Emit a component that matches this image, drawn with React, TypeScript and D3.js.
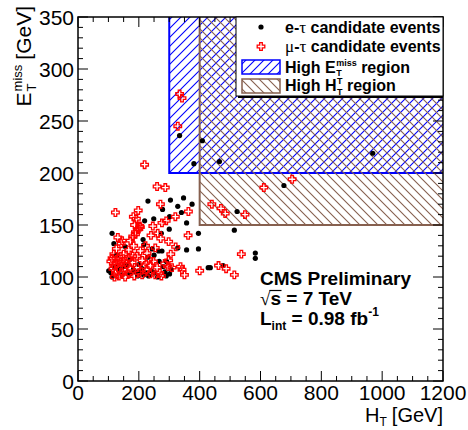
import { useEffect, useRef } from "react";
import * as d3 from "d3";

// e-tau candidate events: [HT, MET] in GeV
const eTauEvents: [number, number][] = [
  [334, 236], [409, 231], [381, 209], [465, 211], [969, 219],
  [677, 188], [523, 163], [514, 145], [583, 123], [583, 118],
  [435, 109], [428, 109], [477, 111], [396, 142], [396, 127],
  [357, 126], [357, 152], [375, 170], [347, 176], [340, 162],
  [328, 168], [304, 174], [301, 158], [300, 146], [278, 165],
  [274, 142], [276, 125], [267, 115], [230, 173], [219, 154],
  [249, 156], [214, 136], [216, 131], [244, 127], [328, 128],
  [307, 107], [301, 103], [265, 125], [112, 142], [118, 132],
  [156, 129], [101, 106], [145, 102], [189, 105], [216, 102],
  [205, 105], [108, 104], [122, 110], [136, 107], [170, 103],
  [182, 107], [196, 101], [226, 104], [232, 101], [241, 106],
  [252, 104], [262, 100], [286, 105], [290, 101], [160, 111],
  [200, 112], [127, 121], [230, 119], [250, 121], [291, 115],
  [171, 117], [112, 100], [150, 110], [210, 108], [280, 110],
];

// mu-tau candidate events: [HT, MET] in GeV
const muTauEvents: [number, number][] = [
  [334, 276], [342, 272], [328, 245], [219, 208], [260, 187],
  [287, 186], [271, 170], [198, 164], [123, 162], [182, 158],
  [290, 154], [320, 158], [276, 152], [246, 149], [205, 148],
  [363, 163], [362, 140], [440, 170], [470, 166], [484, 161],
  [549, 160], [611, 186], [704, 194], [537, 122], [462, 111],
  [487, 108], [514, 102], [400, 106], [272, 137], [298, 134],
  [321, 129], [305, 122], [298, 116], [285, 113], [296, 110],
  [309, 109], [337, 110], [342, 107], [350, 102], [269, 104],
  [274, 101], [131, 138], [145, 135], [142, 132], [126, 127],
  [172, 135], [180, 139], [189, 143], [196, 146], [203, 149],
  [183, 130], [167, 126], [150, 122], [118, 122], [112, 118],
  [134, 117], [167, 118], [194, 120], [227, 123], [254, 128],
  [140, 114], [156, 115], [178, 114], [211, 116], [233, 117],
  [118, 111], [134, 109], [150, 107], [172, 108], [194, 109],
  [216, 110], [238, 111], [260, 109], [123, 104], [167, 103],
  [211, 102], [238, 103], [254, 102], [134, 101], [189, 141],
  [200, 146], [115, 108], [128, 113], [145, 104], [155, 100],
  [185, 101], [200, 104], [225, 107], [248, 115], [160, 112],
  [180, 120], [205, 125], [222, 130], [140, 120], [120, 100],
  [108, 115], [240, 140], [186, 150], [192, 156], [262, 142],
];

// signal regions: [HT min, MET min]
const highMetCut: [number, number] = [300, 200];
const highHtCut: [number, number] = [400, 150];

const htDomain: [number, number] = [0, 1200];
const metDomain: [number, number] = [0, 350];
const htTicks = [0, 200, 400, 600, 800, 1000, 1200];
const metTicks = [0, 50, 100, 150, 200, 250, 300, 350];

const SANS = "'Liberation Sans', Arial, Helvetica, sans-serif";
const SERIF = "'Liberation Serif', 'Times New Roman', serif";
const BLUE = "#0000ff";
const BROWN = "#86604f";
const RED = "#ff0000";

function crossPath(s: number, a: number) {
  return `M${-a},${-s}H${a}V${-a}H${s}V${a}H${a}V${s}H${-a}V${a}H${-s}V${-a}H${-a}Z`;
}

// append a piece of text and return its width
function put(g: any, x: number, y: number, t: string, size: number, weight = "normal", family = SANS) {
  const el = g
    .append("text")
    .attr("x", x)
    .attr("y", y)
    .attr("font-size", size)
    .attr("font-weight", weight)
    .attr("font-family", family)
    .attr("fill", "black")
    .style("white-space", "pre")
    .text(t);
  return (el.node() as SVGTextElement).getComputedTextLength();
}

export default function App() {
  const svgRef = useRef<SVGSVGElement>(null);

  useEffect(() => {
    if (!svgRef.current) return;
    const svg = d3.select(svgRef.current);
    svg.selectAll("*").remove();

    const left = 78, right = 443, top = 17, bottom = 381;
    const x = d3.scaleLinear().domain(htDomain).range([left, right]);
    const y = d3.scaleLinear().domain(metDomain).range([bottom, top]);

    const defs = svg.append("defs");
    const hatch = (id: string, color: string, rising: boolean) => {
      const p = defs
        .append("pattern")
        .attr("id", id)
        .attr("patternUnits", "userSpaceOnUse")
        .attr("width", 9)
        .attr("height", 9);
      p.append("path")
        .attr("d", rising ? "M-2,2L2,-2M0,9L9,0M7,11L11,7" : "M-2,7L2,11M0,0L9,9M7,-2L11,2")
        .attr("stroke", color)
        .attr("stroke-width", 1.1)
        .attr("fill", "none");
    };
    hatch("hatch-met", BLUE, true);
    hatch("hatch-ht", BROWN, false);

    // signal regions
    const regions = svg.append("g");
    const region = (cut: [number, number], fill: string, color: string) => {
      regions
        .append("rect")
        .attr("x", x(cut[0]))
        .attr("y", y(metDomain[1]))
        .attr("width", x(htDomain[1]) - x(cut[0]))
        .attr("height", y(cut[1]) - y(metDomain[1]))
        .attr("fill", fill);
      regions
        .append("path")
        .attr("d", `M${x(cut[0])},${y(metDomain[1])}V${y(cut[1])}H${x(htDomain[1])}`)
        .attr("stroke", color)
        .attr("stroke-width", 2)
        .attr("fill", "none");
    };
    region(highMetCut, "url(#hatch-met)", BLUE);
    region(highHtCut, "url(#hatch-ht)", BROWN);

    // events
    svg.append("g")
      .selectAll("circle")
      .data(eTauEvents)
      .join("circle")
      .attr("cx", (d) => x(d[0]))
      .attr("cy", (d) => y(d[1]))
      .attr("r", 2.6)
      .attr("fill", "black");

    svg.append("g")
      .selectAll("path")
      .data(muTauEvents)
      .join("path")
      .attr("transform", (d) => `translate(${x(d[0])},${y(d[1])})`)
      .attr("d", crossPath(3.8, 1.3))
      .attr("fill", "none")
      .attr("stroke", RED)
      .attr("stroke-width", 1.3);

    // frame with ticks on all four sides
    const axes = svg.append("g").attr("stroke", "black").attr("fill", "none");
    axes.append("rect")
      .attr("x", left)
      .attr("y", top)
      .attr("width", right - left)
      .attr("height", bottom - top)
      .attr("stroke-width", 1.5);
    d3.range(0, 1201, 50).forEach((v) => {
      const len = v % 200 === 0 ? 10 : 5;
      axes.append("line").attr("x1", x(v)).attr("x2", x(v)).attr("y1", bottom).attr("y2", bottom - len);
      axes.append("line").attr("x1", x(v)).attr("x2", x(v)).attr("y1", top).attr("y2", top + len);
    });
    d3.range(0, 351, 10).forEach((v) => {
      const len = v % 50 === 0 ? 10 : 5;
      axes.append("line").attr("y1", y(v)).attr("y2", y(v)).attr("x1", left).attr("x2", left + len);
      axes.append("line").attr("y1", y(v)).attr("y2", y(v)).attr("x1", right).attr("x2", right - len);
    });

    const labels = svg.append("g").attr("font-family", SANS).attr("font-size", 21).attr("fill", "black");
    labels.selectAll(".xl")
      .data(htTicks)
      .join("text")
      .attr("x", (d) => x(d))
      .attr("y", 400)
      .attr("text-anchor", "middle")
      .text((d) => d);
    labels.selectAll(".yl")
      .data(metTicks)
      .join("text")
      .attr("x", left - 4)
      .attr("y", (d) => y(d) + 7.5)
      .attr("text-anchor", "end")
      .text((d) => d);

    // axis titles
    const xt = svg.append("g");
    let cx = 0;
    cx += put(xt, 0, 0, "H", 20);
    cx += put(xt, cx, 4, "T", 12) + 5;
    cx += put(xt, cx, 0, "[GeV]", 20);
    xt.attr("transform", `translate(${right - cx},422)`);

    const yt = svg.append("g");
    let cy = put(yt, 0, 0, "E", 21) + 1;
    const wMiss = put(yt, cy, -9, "miss", 13);
    put(yt, cy, 5, "T", 13);
    cy += wMiss + 5;
    cy += put(yt, cy, 0, "[GeV]", 21);
    yt.attr("transform", `translate(31,${6 + cy}) rotate(-90)`);

    // legend
    const lg = svg.append("g");
    lg.append("rect").attr("x", 238).attr("y", 96).attr("width", 205).attr("height", 2).attr("fill", "black");
    lg.append("rect")
      .attr("x", 236)
      .attr("y", top)
      .attr("width", right - 236)
      .attr("height", 79)
      .attr("fill", "white")
      .attr("stroke", "black")
      .attr("stroke-width", 1);
    lg.append("circle").attr("cx", 261).attr("cy", 27).attr("r", 2.6).attr("fill", "black");
    lg.append("path")
      .attr("transform", "translate(261,46.5)")
      .attr("d", crossPath(3.8, 1.3))
      .attr("fill", "none")
      .attr("stroke", RED)
      .attr("stroke-width", 1.3);
    lg.append("rect").attr("x", 242).attr("y", 60).attr("width", 38).attr("height", 14)
      .attr("fill", "url(#hatch-met)").attr("stroke", BLUE).attr("stroke-width", 1.5);
    lg.append("rect").attr("x", 242).attr("y", 79).attr("width", 38).attr("height", 14)
      .attr("fill", "url(#hatch-ht)").attr("stroke", BROWN).attr("stroke-width", 1.5);

    let lx = 285;
    lx += put(lg, lx, 33, "e-", 16, "bold");
    lx += put(lg, lx, 33, "τ", 17, "normal", SERIF);
    put(lg, lx, 33, " candidate events", 16, "bold");

    lx = 285;
    lx += put(lg, lx, 52, "μ", 17, "normal", SERIF);
    lx += put(lg, lx, 52, "-", 16, "bold");
    lx += put(lg, lx, 52, "τ", 17, "normal", SERIF);
    put(lg, lx, 52, " candidate events", 16, "bold");

    lx = 285;
    lx += put(lg, lx, 72.5, "High E", 16, "bold") + 0.5;
    const wm = put(lg, lx, 65.5, "miss", 9, "bold");
    put(lg, lx, 76, "T", 9, "bold");
    lx += wm;
    put(lg, lx, 72.5, " region", 16, "bold");

    lx = 285;
    lx += put(lg, lx, 91, "High H", 16, "bold") + 0.5;
    const wt = put(lg, lx, 84, "T", 9, "bold");
    put(lg, lx, 95, "T", 9, "bold");
    lx += wt;
    put(lg, lx, 91, " region", 16, "bold");

    // CMS label
    const cms = svg.append("g");
    put(cms, 260, 285, "CMS Preliminary", 19, "bold");
    let sx = 260;
    sx += put(cms, sx, 305, "√", 19, "normal", SERIF);
    const ws = put(cms, sx, 305, "s", 19, "bold");
    cms.append("line")
      .attr("x1", sx - 1).attr("x2", sx + ws + 0.5)
      .attr("y1", 290.5).attr("y2", 290.5)
      .attr("stroke", "black").attr("stroke-width", 1.2);
    sx += ws;
    put(cms, sx, 305, " = 7 TeV", 19, "bold");
    let tx = 260;
    tx += put(cms, tx, 325, "L", 19, "bold");
    tx += put(cms, tx, 330, "int", 12, "bold");
    tx += put(cms, tx, 325, " = 0.98 fb", 19, "bold");
    put(cms, tx, 316, "-1", 12, "bold");
  }, []);

  return (
    <svg
      ref={svgRef}
      width={468}
      height={430}
      style={{ position: "absolute", left: 0, top: 0, background: "white" }}
    />
  );
}
